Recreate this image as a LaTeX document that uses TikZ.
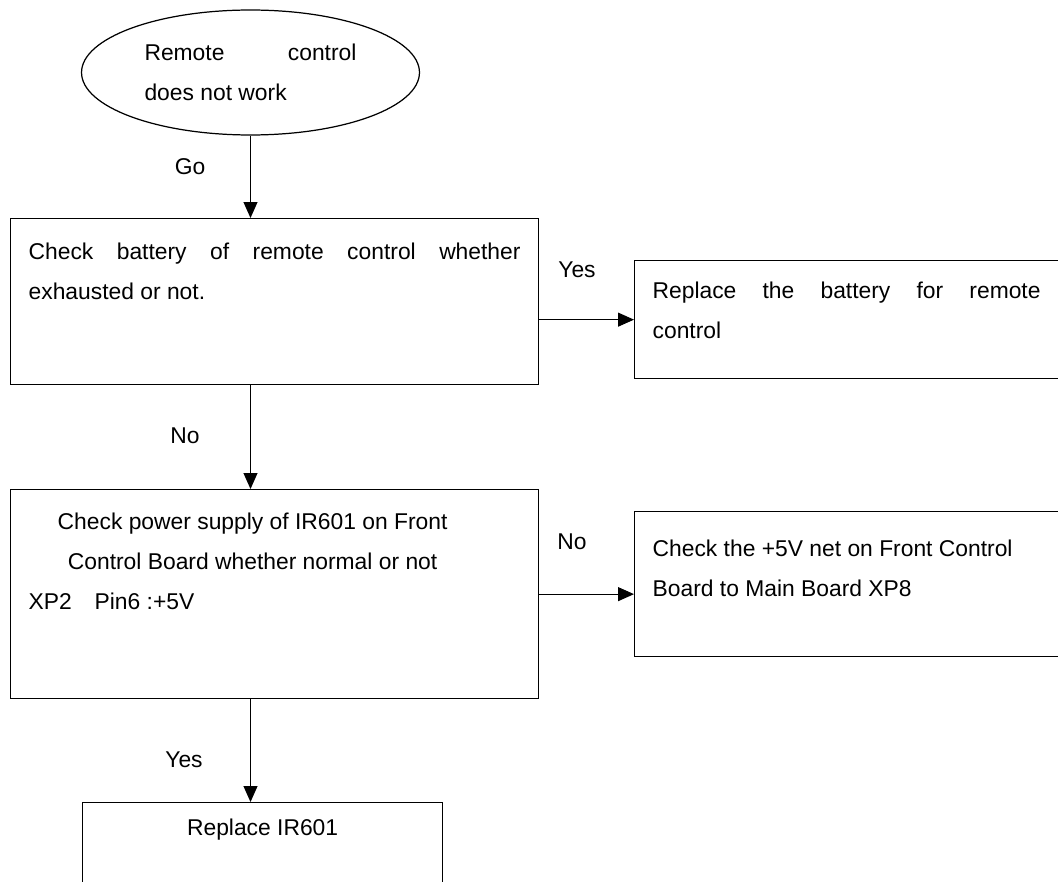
\documentclass[tikz,border=0pt]{standalone}
\usepackage{fontspec}
\setmainfont{Liberation Sans}
\usetikzlibrary{arrows.meta}
\usetikzlibrary{shapes.geometric}

\begin{document}
\begin{tikzpicture}[
        x=0.02cm, y=-0.02cm,
        font=\fontsize{13pt}{22.8pt}\selectfont,
        >={Triangle[length=0.32cm, width=0.28cm]},
        terminal/.style={ellipse, draw, line width=0.7pt, minimum width=6.76cm, minimum height=2.5cm, inner sep=0pt},
        stepbox/.style={rectangle, draw, line width=0.75pt, anchor=north west, inner xsep=0.36cm},
        answer/.style={inner sep=0pt},
        line/.style={draw, line width=0.6pt, ->}
    ]
    \useasboundingbox (0,0) rectangle (1058,882);
    \clip (0,0) rectangle (1058,882);

    % --- start ---
    \node[terminal] (start) at (250.5,72.5) {\parbox{4.24cm}{Remote control\linebreak does not work}};

    % --- main column ---
    \node[stepbox, inner ysep=0.48cm] (battery) at (10,218)
        {\parbox[t][2.36cm][t]{9.84cm}{Check battery of remote control whether\linebreak exhausted or not.}};
    \node[stepbox, inner ysep=0.46cm] (power) at (10,489)
        {\parbox[t][3.26cm][t]{9.84cm}{{\centering\rightskip=0.88cm plus 1fil Check power supply of IR601 on Front\\ Control Board whether normal or not\par}XP2\quad Pin6 :+5V}};
    \node[stepbox, inner ysep=0.32cm] (newir) at (82,802)
        {\parbox[t][2.32cm][t]{6.48cm}{\centering Replace IR601}};

    % --- right column ---
    \node[stepbox, inner ysep=0.42cm] (newbattery) at (634,260)
        {\parbox[t][1.52cm][t]{8.6cm}{\rightskip=0.84cm Replace the battery for remote\linebreak control}};
    \node[stepbox, inner ysep=0.56cm] (netcheck) at (634,511)
        {\parbox[t][1.78cm][t]{8.6cm}{\raggedright Check the +5V net on Front Control\\ Board to Main Board XP8}};

    % --- connectors ---
    \draw[line] (start.south) -- (start.south |- battery.north);
    \draw[line] (battery.south -| start.south) -- (power.north -| start.south);
    \draw[line] (power.south -| start.south) -- (newir.north -| start.south);
    \draw[line] (newbattery.west -| battery.east) -- (newbattery.west);
    \draw[line] (power.east) -- (power.east -| netcheck.west);

    % --- answers ---
    \node[answer] (go) at (190,167) {Go};
    \node[answer] (yes1) at (577,270) {Yes};
    \node[answer] (no1) at (185,436) {No};
    \node[answer] (no2) at (572,542) {No};
    \node[answer] (yes2) at (184,760) {Yes};

\end{tikzpicture}
\end{document}
